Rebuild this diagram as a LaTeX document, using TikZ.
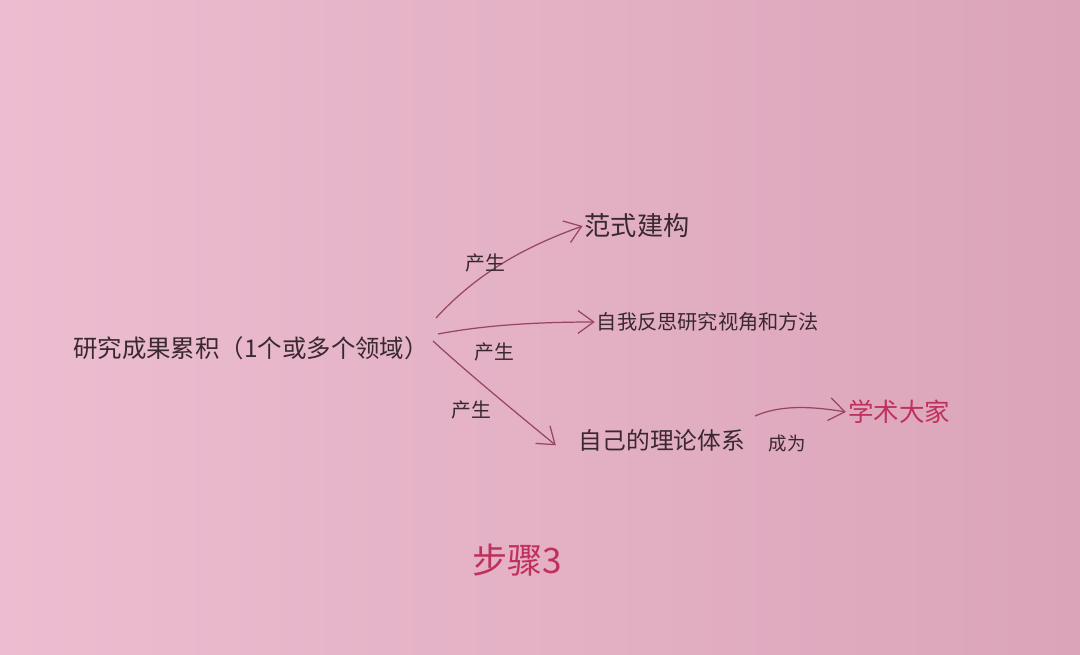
\documentclass[tikz,border=0pt]{standalone}
\usepackage{fontspec}
\newfontfamily\cjk{Noto Sans CJK SC}
\usetikzlibrary{arrows.meta}
\definecolor{paperL}{RGB}{236,189,208}
\definecolor{paperR}{RGB}{219,164,185}
\definecolor{ink}{RGB}{58,40,48}
\definecolor{redink}{RGB}{192,48,92}
\definecolor{linkink}{RGB}{150,70,95}
\tikzset{
  txt/.style={inner sep=1pt, text=ink, font=\cjk},
  redtxt/.style={inner sep=1pt, text=redink, font=\cjk},
  link/.style={draw=linkink, line width=0.7pt, -{Straight Barb[length=9pt,width=13pt,line width=0.7pt]}},
  lbl/.style={inner sep=0pt, text=ink, font=\cjk\fontsize{11.3pt}{12pt}\selectfont}
}
\begin{document}
\begin{tikzpicture}[x=0.02cm,y=-0.02cm]
\shade[left color=paperL, right color=paperR] (0,0) rectangle (1080,654);
\useasboundingbox (0,0) rectangle (1080,654);

\node[txt, font=\cjk\fontsize{13.9pt}{15pt}\selectfont] (main) at (251,348) {研究成果累积（1个或多个领域）};
\node[txt, font=\cjk\fontsize{14.9pt}{16pt}\selectfont] (fs) at (637,226) {范式建构};
\node[txt, font=\cjk\fontsize{11.5pt}{13pt}\selectfont] (zw) at (708,322) {自我反思研究视角和方法};
\node[txt, font=\cjk\fontsize{13.5pt}{15pt}\selectfont] (ll) at (662,440) {自己的理论体系};
\node[redtxt, font=\cjk\fontsize{14.5pt}{16pt}\selectfont] (xs) at (899,412) {学术大家};
\node[redtxt, font=\cjk\fontsize{20pt}{22pt}\selectfont] (bz) at (517,560) {步骤3};

\coordinate (o1) at (436,318);
\coordinate (o2) at (438,334);
\coordinate (o3) at (433,341);
\coordinate (e4) at (755,416);

\draw[link] (o1) .. controls (480,270) and (530,245) .. (fs.west);
\draw[link] (o2) .. controls (480,326) and (530,322) .. (zw.west);
\draw[link] (o3) .. controls (470,375) and (525,420) .. ([xshift=-12pt,yshift=-3pt]ll.west);
\draw[link] (e4) .. controls (780,405) and (810,406) .. (xs.west);

\node[lbl] (p1) at (485,263) {产生};
\node[lbl] (p2) at (494,352) {产生};
\node[lbl] (p3) at (471,410) {产生};
\node[lbl, font=\cjk\fontsize{10.5pt}{12pt}\selectfont] (cw) at (787,444) {成为};
\end{tikzpicture}
\end{document}
